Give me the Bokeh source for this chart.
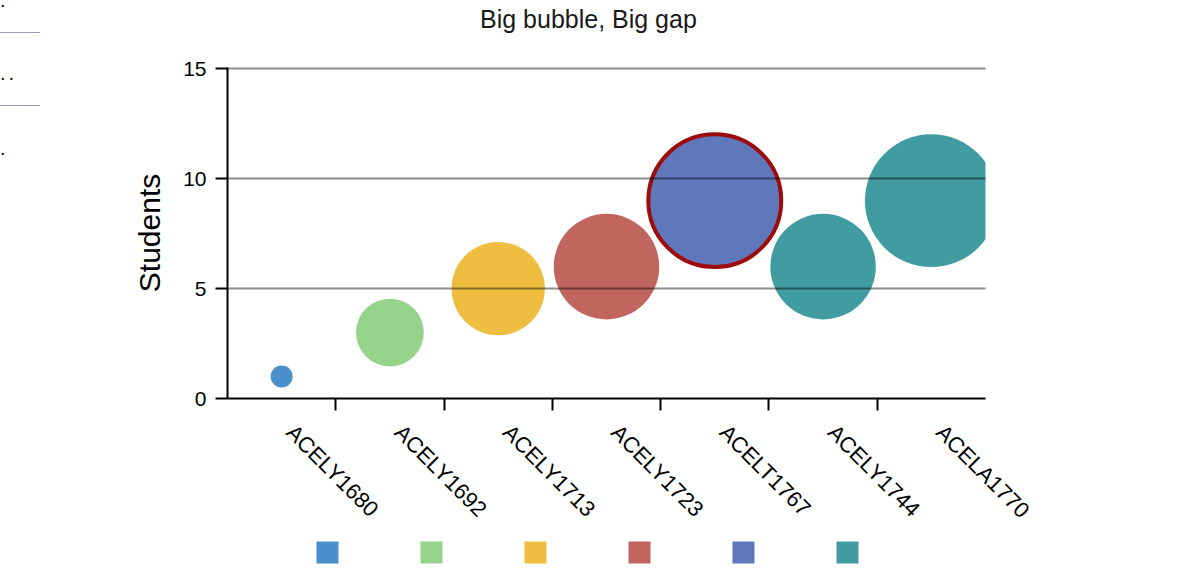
import math
from bokeh.plotting import figure
from bokeh.models import Range1d, FixedTicker, ColumnDataSource, Div
from bokeh.layouts import row, column
from bokeh.embed import file_html
from bokeh.resources import INLINE

# ---------------- data ----------------
categories = ["ACELY1680", "ACELY1692", "ACELY1713", "ACELY1723",
              "ACELT1767", "ACELY1744", "ACELA1770"]
students = [1, 3, 5, 6, 9, 6, 9]
bubble_z = [1, 9.5, 18, 23, 36.5, 23, 36.5]
point_series = [0, 1, 2, 3, 4, 5, 5]
series_colors = ["#4a8fcc", "#95d38b", "#efbe40", "#c0665f", "#5f78bc", "#409ca1"]
highlighted = "ACELT1767"
y_ticks = [0, 5, 10, 15]
subtitle = "Big bubble, Big gap"
y_label = "Students"
side_marks = [".", "..", "."]

FONT = "Liberation Sans"

# ---------------- left strip (cut-off page remnants) ----------------
mark_tops = [-10, 63, 138]
rule_tops = [32, 105]
html = ['<div style="position:relative;width:130px;height:568px;'
        'font-family:\'Liberation Sans\';font-size:20px;line-height:20px;color:#111">']
for t, m in zip(mark_tops, side_marks):
    html.append(f'<div style="position:absolute;left:0px;top:{t}px;letter-spacing:3px">{m}</div>')
for t in rule_tops:
    html.append(f'<div style="position:absolute;left:0px;top:{t}px;width:40px;'
                'height:0;border-top:1.5px solid #9d9cbd"></div>')
html.append('</div>')
side = Div(text="".join(html), width=130, height=568, margin=0)

# ---------------- subtitle strip ----------------
title_html = ('<div style="position:relative;width:1070px;height:40px;">'
              '<div style="position:absolute;left:350px;top:7px;font-family:\'Liberation Sans\';'
              'font-size:25px;line-height:25px;color:#1a1a1a;white-space:nowrap">'
              f'{subtitle}</div></div>')
title_div = Div(text=title_html, width=1070, height=40, margin=0)

# ---------------- main chart ----------------
xs = [i + 0.5 for i in range(len(categories))]
src = ColumnDataSource(dict(
    x=xs, y=students, cat=categories,
    size=[22 * math.sqrt(z) for z in bubble_z],
    color=[series_colors[s] for s in point_series],
    lw=[4 if c == highlighted else 0 for c in categories],
    la=[1 if c == highlighted else 0 for c in categories],
))

p = figure(width=1070, height=496, x_range=Range1d(0, len(categories)),
           y_range=Range1d(0, 15.06), output_backend="svg", toolbar_location=None,
           min_border_left=97, min_border_right=215, min_border_top=27,
           min_border_bottom=138, outline_line_color=None)

p.scatter("x", "y", size="size", fill_color="color", fill_alpha=1,
          line_color="#9e0b0b", line_alpha="la", line_width="lw", source=src)

# x axis (labels anchored slightly right of each category centre, as in the original)
label_shift = 0.08
label_pos = [x + label_shift for x in xs]
xa = p.xaxis[0]
xa.ticker = FixedTicker(ticks=label_pos, minor_ticks=list(range(1, len(categories))))
xa.major_label_overrides = {x: c for x, c in zip(label_pos, categories)}
xa.major_label_orientation = -math.pi / 4
xa.major_tick_out = 0
xa.major_tick_in = 0
xa.major_tick_line_color = None
xa.minor_tick_out = 12
xa.minor_tick_in = 0
xa.minor_tick_line_color = "black"
xa.minor_tick_line_width = 2
xa.axis_line_width = 2
xa.axis_line_color = "black"
xa.major_label_text_font = FONT
xa.major_label_text_font_size = "22px"
xa.major_label_text_color = "black"
xa.major_label_standoff = 18

# y axis
ya = p.yaxis[0]
ya.ticker = FixedTicker(ticks=y_ticks, minor_ticks=[])
ya.major_tick_out = 12
ya.major_tick_in = 0
ya.major_tick_line_width = 2
ya.major_tick_line_color = "black"
ya.axis_line_width = 2
ya.axis_line_color = "black"
ya.major_label_text_font = FONT
ya.major_label_text_font_size = "21px"
ya.major_label_text_color = "black"
ya.major_label_standoff = 9
ya.axis_label = y_label
ya.axis_label_text_font = FONT
ya.axis_label_text_font_size = "30px"
ya.axis_label_text_font_style = "normal"
ya.axis_label_text_color = "black"
ya.axis_label_standoff = 14

# grid
p.xgrid.visible = False
p.ygrid.ticker = FixedTicker(ticks=y_ticks)
p.ygrid.grid_line_color = "black"
p.ygrid.grid_line_alpha = 0.45
p.ygrid.grid_line_width = 2
p.ygrid.level = "guide"

# ---------------- legend strip (one square per series) ----------------
series_idx = list(range(len(series_colors)))
leg = figure(width=1070, height=32, x_range=Range1d(-0.9615, 6.327), y_range=Range1d(0, 1),
             output_backend="svg", toolbar_location=None, x_axis_type=None, y_axis_type=None,
             min_border_left=97, min_border_right=215, min_border_top=0, min_border_bottom=0,
             outline_line_color=None)
leg.grid.visible = False
leg.scatter(x=series_idx, y=[0.5] * len(series_idx), marker="square", size=22,
            fill_color=series_colors, line_color=None)

layout = row(side, column(title_div, p, leg, spacing=0), spacing=0)
open("out.html", "w").write(file_html(layout, INLINE))
